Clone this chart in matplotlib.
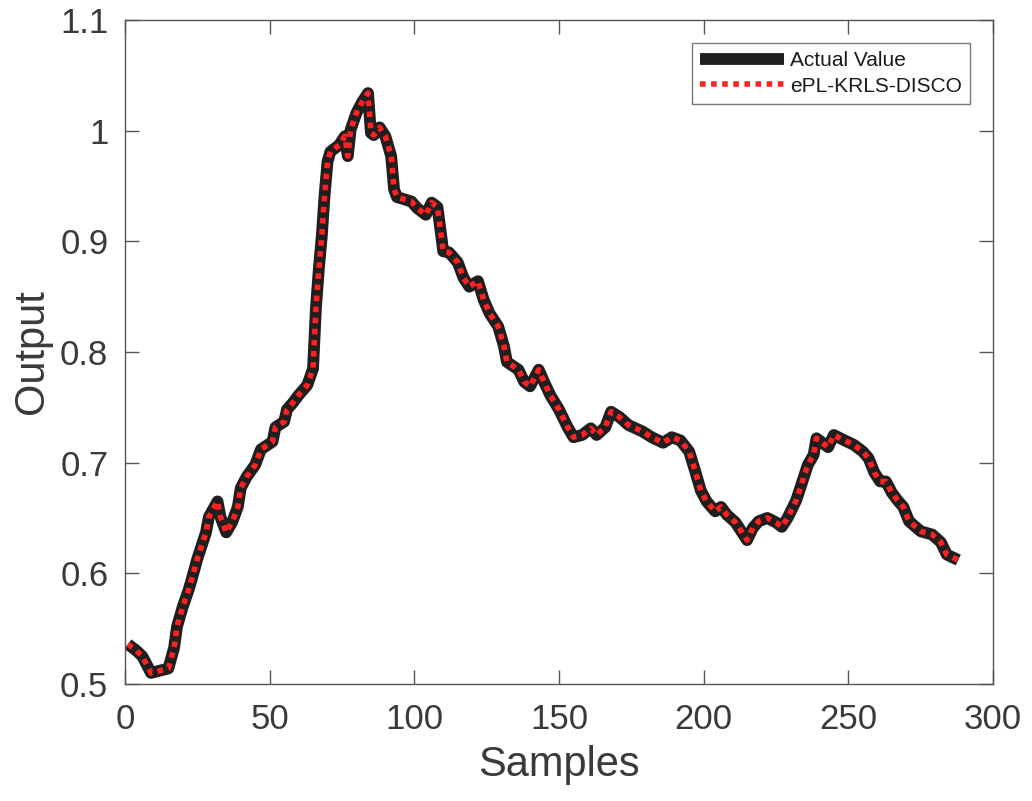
import matplotlib
matplotlib.use("Agg")
import matplotlib.pyplot as plt

# values
samples = [1, 4, 6, 9, 12, 15, 17, 18, 20, 22, 23, 25, 28, 29, 32, 33, 35, 37, 39, 40,
           42, 45, 47, 51, 52, 55, 56, 58, 60, 63, 65, 66, 67, 68, 69, 70, 71, 74, 76, 77,
           78, 80, 82, 84, 85, 86, 88, 90, 92, 93, 94, 99, 101, 104, 106, 108, 110, 112, 115, 117,
           119, 122, 124, 126, 129, 131, 132, 136, 138, 140, 143, 145, 147, 150, 153, 155, 158, 161, 163, 166,
           168, 171, 174, 179, 182, 186, 189, 192, 195, 197, 199, 201, 204, 206, 208, 211, 213, 215, 217, 219,
           222, 225, 227, 229, 232, 234, 236, 238, 239, 241, 243, 245, 248, 252, 255, 257, 259, 261, 263, 265,
           267, 269, 271, 275, 279, 282, 284, 288]
actual = [0.536, 0.530, 0.525, 0.510, 0.512, 0.514, 0.533, 0.552, 0.570, 0.585, 0.594, 0.613, 0.637, 0.651, 0.665, 0.651, 0.637, 0.646, 0.660, 0.677,
          0.687, 0.698, 0.712, 0.719, 0.732, 0.737, 0.748, 0.754, 0.761, 0.770, 0.785, 0.840, 0.875, 0.904, 0.942, 0.972, 0.981, 0.987, 0.995, 0.977,
          1.001, 1.016, 1.026, 1.034, 0.998, 0.996, 1.003, 0.995, 0.977, 0.947, 0.940, 0.936, 0.930, 0.924, 0.935, 0.931, 0.891, 0.890, 0.881, 0.867,
          0.859, 0.864, 0.847, 0.835, 0.823, 0.805, 0.791, 0.784, 0.773, 0.769, 0.784, 0.772, 0.761, 0.748, 0.732, 0.723, 0.725, 0.731, 0.725, 0.732,
          0.746, 0.741, 0.734, 0.728, 0.723, 0.718, 0.723, 0.720, 0.710, 0.693, 0.675, 0.665, 0.656, 0.660, 0.653, 0.646, 0.638, 0.630, 0.641, 0.647,
          0.650, 0.646, 0.642, 0.650, 0.666, 0.682, 0.698, 0.707, 0.722, 0.718, 0.714, 0.725, 0.721, 0.716, 0.710, 0.704, 0.691, 0.683, 0.683, 0.673,
          0.666, 0.660, 0.647, 0.638, 0.635, 0.628, 0.617, 0.612]
predicted = list(actual)

x_ticks = [0, 50, 100, 150, 200, 250, 300]
y_ticks = [0.5, 0.6, 0.7, 0.8, 0.9, 1.0, 1.1]
y_labels = ['0.5', '0.6', '0.7', '0.8', '0.9', '1', '1.1']

plt.rcParams['font.family'] = ['Liberation Sans', 'DejaVu Sans']
text_color = '#3a3a3a'
axis_color = '#555555'

fig = plt.figure(figsize=(10.32, 8.01), dpi=100)
ax = fig.add_axes([0.1211, 0.1461, 0.8411, 0.8289])

ax.plot(samples, actual, color='#1f1f1f', linewidth=8.5, solid_joinstyle='round',
        solid_capstyle='butt', label='Actual Value')
ax.plot(samples, predicted, color='#ff2020', linewidth=4, linestyle=(0, (1, 1)),
        label='ePL-KRLS-DISCO')

ax.set_xlim(0, 300)
ax.set_ylim(0.5, 1.1)
ax.set_xticks(x_ticks)
ax.set_yticks(y_ticks)
ax.set_yticklabels(y_labels)

ax.tick_params(direction='in', length=10, width=1, top=True, right=True,
               labelsize=25, colors=axis_color, labelcolor=text_color)
ax.tick_params(axis='x', pad=14)
ax.tick_params(axis='y', pad=12)
for s in ax.spines.values():
    s.set_color(axis_color)
    s.set_linewidth(1)

ax.set_xlabel('Samples', fontsize=30, color=text_color, labelpad=6)
ax.set_ylabel('Output', fontsize=30, color=text_color, labelpad=6)

leg = ax.legend(loc='upper right', fontsize=15, frameon=True, fancybox=False,
                edgecolor=axis_color, handlelength=4.0, borderaxespad=1.1,
                handletextpad=0.3, borderpad=0.4, labelspacing=0.3)
leg.get_frame().set_linewidth(1)
for t in leg.get_texts():
    t.set_color('#1a1a1a')

fig.savefig('out.png', dpi=100)
